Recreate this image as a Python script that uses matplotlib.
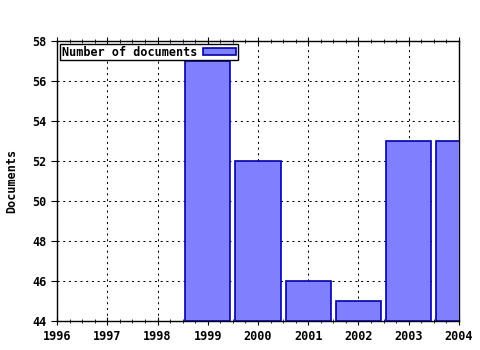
import matplotlib.pyplot as plt
from matplotlib.ticker import MultipleLocator

years = [1999, 2000, 2001, 2002, 2003, 2004]
docs = [57, 52, 46, 45, 53, 53]
xticks = list(range(1996, 2005))
yticks = list(range(44, 59, 2))

plt.rcParams['font.family'] = ['DejaVu Sans Mono']
plt.rcParams['font.weight'] = 'bold'

fig = plt.figure(figsize=(4.8, 3.5), dpi=100)
ax = fig.add_axes([0.119, 0.083, 0.837, 0.8])

ax.bar(years, [d - 44 for d in docs], bottom=44, width=0.9,
       color='#8080ff', edgecolor='#0000aa', linewidth=1.2,
       label='Number of documents', zorder=3, clip_on=True)

ax.set_xlim(1996, 2004)
ax.set_ylim(44, 58)
ax.set_xticks(xticks)
ax.set_yticks(yticks)
ax.xaxis.set_minor_locator(MultipleLocator(0.25))
ax.tick_params(axis='both', labelsize=8.5, length=4, direction='out')
ax.tick_params(axis='x', which='major', top=True, direction='inout', length=6)
ax.tick_params(axis='x', which='minor', length=3, direction='inout', top=True)
ax.grid(True, linestyle=(0, (2, 3.5)), color='black', linewidth=0.75, zorder=0)
ax.set_ylabel('Documents', fontsize=8.5, fontweight='bold', labelpad=10)
for s in ax.spines.values():
    s.set_linewidth(1)

leg = ax.legend(loc='upper left', markerfirst=False, fancybox=False,
                edgecolor='black', framealpha=1, fontsize=8.5,
                borderpad=0.15, handlelength=2.8, handleheight=0.55,
                handletextpad=0.5, borderaxespad=0.25)
leg.get_frame().set_linewidth(1)

fig.savefig('out.png', dpi=100)
